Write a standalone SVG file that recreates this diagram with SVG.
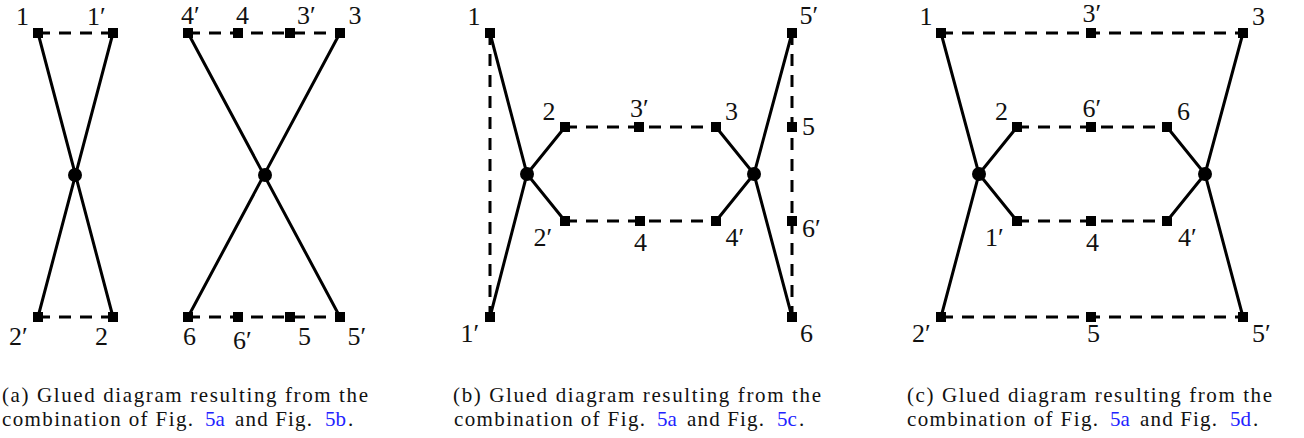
<svg xmlns="http://www.w3.org/2000/svg" width="1304" height="438" viewBox="0 0 1304 438">
<style>
.s{stroke:#000;stroke-width:3;fill:none;stroke-linecap:butt}
.d{stroke:#000;stroke-width:3;fill:none;stroke-dasharray:12 9}
.sq{fill:#000}
.v{fill:#000}
.l{font-family:"Liberation Serif","Times New Roman",serif;font-size:26px;fill:#111}
.c{font-family:"Liberation Serif","Times New Roman",serif;font-size:21px;fill:#111}
.k{fill:#2222ff}
</style>
<rect width="1304" height="438" fill="#fff"/>
<g id="connectors">
<path class="s" d="M38 33L113 317M113 33L38 317M188 33L340 317M340 33L188 317"/>
<path class="d" d="M38 33H113M38 317H113M188 33H340M188 317H340"/>
<path class="s" d="M490 33L527 174L490 317M527 174L565 127M527 174L565 221M792 33L754 174L792 317M754 174L716 127M754 174L716 221"/>
<path class="d" d="M490 33V317M792 33V317M565 127H716M565 221H716"/>
<path class="s" d="M941 33L979 174L941 317M979 174L1017 127M979 174L1017 221M1243 33L1205 174L1243 317M1205 174L1167 127M1205 174L1167 221"/>
<path class="d" d="M941 33H1243M941 317H1243M1017 127H1167M1017 221H1167"/>
</g>
<g id="panel-a">
<g id="a-v1"><circle class="v" cx="75" cy="175" r="7"/></g>
<g id="a-v2"><circle class="v" cx="265" cy="175" r="7"/></g>
<g id="a-1"><rect class="sq" x="33" y="28" width="10" height="10"/><text class="l" x="16" y="25">1</text></g>
<g id="a-1p"><rect class="sq" x="108" y="28" width="10" height="10"/><text class="l" x="87" y="25">1′</text></g>
<g id="a-2p"><rect class="sq" x="33" y="312" width="10" height="10"/><text class="l" x="9" y="345">2′</text></g>
<g id="a-2"><rect class="sq" x="108" y="312" width="10" height="10"/><text class="l" x="95" y="345">2</text></g>
<g id="a-4p"><rect class="sq" x="183" y="28" width="10" height="10"/><text class="l" x="181" y="24">4′</text></g>
<g id="a-4"><rect class="sq" x="233" y="28" width="10" height="10"/><text class="l" x="236" y="24">4</text></g>
<g id="a-3p"><rect class="sq" x="285" y="28" width="10" height="10"/><text class="l" x="297" y="24">3′</text></g>
<g id="a-3"><rect class="sq" x="335" y="28" width="10" height="10"/><text class="l" x="348.5" y="24">3</text></g>
<g id="a-6"><rect class="sq" x="183" y="312" width="10" height="10"/><text class="l" x="183" y="345">6</text></g>
<g id="a-6p"><rect class="sq" x="233" y="312" width="10" height="10"/><text class="l" x="233" y="349">6′</text></g>
<g id="a-5"><rect class="sq" x="285" y="312" width="10" height="10"/><text class="l" x="298" y="345">5</text></g>
<g id="a-5p"><rect class="sq" x="335" y="312" width="10" height="10"/><text class="l" x="347.5" y="345">5′</text></g>
</g>
<g id="panel-b">
<g id="b-v1"><circle class="v" cx="527" cy="174" r="7"/></g>
<g id="b-v2"><circle class="v" cx="754" cy="174" r="7"/></g>
<g id="b-1"><rect class="sq" x="485" y="28" width="10" height="10"/><text class="l" x="467.5" y="25">1</text></g>
<g id="b-1p"><rect class="sq" x="485" y="312" width="10" height="10"/><text class="l" x="460.5" y="342">1′</text></g>
<g id="b-2"><rect class="sq" x="560" y="122" width="10" height="10"/><text class="l" x="542.5" y="120">2</text></g>
<g id="b-3p"><rect class="sq" x="634" y="122" width="10" height="10"/><text class="l" x="630" y="117">3′</text></g>
<g id="b-3"><rect class="sq" x="711" y="122" width="10" height="10"/><text class="l" x="725" y="120">3</text></g>
<g id="b-2p"><rect class="sq" x="560" y="216" width="10" height="10"/><text class="l" x="533.5" y="246">2′</text></g>
<g id="b-4"><rect class="sq" x="635" y="216" width="10" height="10"/><text class="l" x="634" y="251">4</text></g>
<g id="b-4p"><rect class="sq" x="711" y="216" width="10" height="10"/><text class="l" x="725.5" y="246">4′</text></g>
<g id="b-5p"><rect class="sq" x="787" y="28" width="10" height="10"/><text class="l" x="799.5" y="24">5′</text></g>
<g id="b-5"><rect class="sq" x="787" y="122" width="10" height="10"/><text class="l" x="802" y="135">5</text></g>
<g id="b-6p"><rect class="sq" x="787" y="216" width="10" height="10"/><text class="l" x="802" y="237">6′</text></g>
<g id="b-6"><rect class="sq" x="787" y="312" width="10" height="10"/><text class="l" x="800" y="342">6</text></g>
</g>
<g id="panel-c">
<g id="c-v1"><circle class="v" cx="979" cy="174" r="7"/></g>
<g id="c-v2"><circle class="v" cx="1205" cy="174" r="7"/></g>
<g id="c-1"><rect class="sq" x="936" y="28" width="10" height="10"/><text class="l" x="919.5" y="25">1</text></g>
<g id="c-3p"><rect class="sq" x="1086" y="28" width="10" height="10"/><text class="l" x="1082.5" y="22">3′</text></g>
<g id="c-3"><rect class="sq" x="1238" y="28" width="10" height="10"/><text class="l" x="1252" y="25">3</text></g>
<g id="c-2"><rect class="sq" x="1012" y="122" width="10" height="10"/><text class="l" x="995" y="120">2</text></g>
<g id="c-6p"><rect class="sq" x="1086" y="122" width="10" height="10"/><text class="l" x="1082.5" y="117">6′</text></g>
<g id="c-6"><rect class="sq" x="1162" y="122" width="10" height="10"/><text class="l" x="1177" y="120">6</text></g>
<g id="c-1p"><rect class="sq" x="1012" y="216" width="10" height="10"/><text class="l" x="985" y="246">1′</text></g>
<g id="c-4"><rect class="sq" x="1086" y="216" width="10" height="10"/><text class="l" x="1086" y="251">4</text></g>
<g id="c-4p"><rect class="sq" x="1162" y="216" width="10" height="10"/><text class="l" x="1178" y="246">4′</text></g>
<g id="c-2p"><rect class="sq" x="936" y="312" width="10" height="10"/><text class="l" x="912" y="342">2′</text></g>
<g id="c-5"><rect class="sq" x="1086" y="312" width="10" height="10"/><text class="l" x="1087" y="342">5</text></g>
<g id="c-5p"><rect class="sq" x="1238" y="312" width="10" height="10"/><text class="l" x="1252" y="342">5′</text></g>
</g>
<g id="captions">
<text class="c" x="2" y="402" textLength="366" lengthAdjust="spacing">(a) Glued diagram resulting from the</text>
<text class="c" x="2" y="426" textLength="191" lengthAdjust="spacing">combination of Fig.</text>
<text class="c k" x="205" y="426">5a</text>
<text class="c" x="235" y="426" textLength="77" lengthAdjust="spacing">and Fig.</text>
<text class="c k" x="325" y="426">5b</text>
<text class="c" x="348" y="426">.</text>
<text class="c" x="453" y="402" textLength="368" lengthAdjust="spacing">(b) Glued diagram resulting from the</text>
<text class="c" x="454" y="426" textLength="191" lengthAdjust="spacing">combination of Fig.</text>
<text class="c k" x="657" y="426">5a</text>
<text class="c" x="687" y="426" textLength="77" lengthAdjust="spacing">and Fig.</text>
<text class="c k" x="777" y="426">5c</text>
<text class="c" x="799" y="426">.</text>
<text class="c" x="907" y="402" textLength="365" lengthAdjust="spacing">(c) Glued diagram resulting from the</text>
<text class="c" x="907" y="426" textLength="191" lengthAdjust="spacing">combination of Fig.</text>
<text class="c k" x="1110" y="426">5a</text>
<text class="c" x="1140" y="426" textLength="77" lengthAdjust="spacing">and Fig.</text>
<text class="c k" x="1230" y="426">5d</text>
<text class="c" x="1253" y="426">.</text>
</g>
</svg>
